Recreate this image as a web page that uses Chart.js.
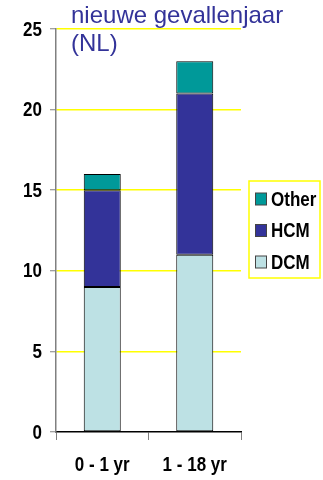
<!DOCTYPE html>
<html>
<head>
<meta charset="utf-8">
<script src="https://cdn.jsdelivr.net/npm/chart.js@4.4.1/dist/chart.umd.min.js"></script>
<style>
  html, body { margin: 0; padding: 0; background: #fff; }
  #wrap { position: relative; width: 323px; height: 480px; }
</style>
</head>
<body>
<div id="wrap"><canvas id="c" width="323" height="480"></canvas></div>
<script>
// New cases per year (NL) by age group and cardiomyopathy type
const categories = ['0 - 1 yr', '1 - 18 yr'];
const dcm = [9, 11];
const hcm = [6, 10];
const other = [1, 2];
const yTicks = [0, 5, 10, 15, 20, 25];
const titleLines = ['nieuwe gevallenjaar', '(NL)'];

const COLORS = { DCM: '#BDE1E4', HCM: '#333399', Other: '#009999' };
const FONT = '"Liberation Sans", Arial, sans-serif';
const BOLD = 'bold 20px ' + FONT;
const SQUEEZE = 0.85; // narrow bold lettering for axis and legend labels

// Draw text horizontally condensed around its anchor point
function narrowText(ctx, text, x, y, align) {
  ctx.save();
  ctx.translate(x, y);
  ctx.scale(SQUEEZE, 1);
  ctx.textAlign = align;
  ctx.fillText(text, 0, 0);
  ctx.restore();
}

const datasets = [
  { label: 'DCM', data: dcm, backgroundColor: COLORS.DCM },
  { label: 'HCM', data: hcm, backgroundColor: COLORS.HCM },
  { label: 'Other', data: other, backgroundColor: COLORS.Other }
].map(d => Object.assign(d, {
  borderColor: '#000', borderWidth: 1, borderSkipped: false,
  barPercentage: 0.4, categoryPercentage: 1
}));

// Axis labels, placed through the chart's own scales
const axisLabelPlugin = {
  id: 'axisLabels',
  afterDraw(chart) {
    const ctx = chart.ctx;
    const xs = chart.scales.x, ys = chart.scales.y;
    ctx.save();
    ctx.fillStyle = '#000';
    ctx.font = BOLD;
    ctx.textBaseline = 'middle';
    ys.ticks.forEach(t => {
      narrowText(ctx, String(t.value), 42, ys.getPixelForValue(t.value) + 1, 'right');
    });
    ctx.textBaseline = 'alphabetic';
    categories.forEach((c, i) => {
      narrowText(ctx, c, xs.getPixelForValue(i), 471, 'center');
    });
    ctx.restore();
  }
};

// Title text overlapping the top of the plot
const titlePlugin = {
  id: 'titleText',
  afterDraw(chart) {
    const ctx = chart.ctx;
    ctx.save();
    ctx.fillStyle = '#333399';
    ctx.font = '24px ' + FONT;
    ctx.textAlign = 'left';
    ctx.textBaseline = 'alphabetic';
    ctx.fillText(titleLines[0], 71, 23);
    ctx.fillText(titleLines[1], 71, 51);
    ctx.restore();
  }
};

// Boxed legend on the right, top-to-bottom in reverse stacking order
const legendPlugin = {
  id: 'boxLegend',
  afterDraw(chart) {
    const ctx = chart.ctx;
    ctx.save();
    ctx.strokeStyle = '#FFFF00';
    ctx.lineWidth = 1.5;
    ctx.fillStyle = '#fff';
    ctx.fillRect(249, 181, 71, 97);
    ctx.strokeRect(249, 181, 71, 97);
    const items = chart.data.datasets.slice().reverse();
    ctx.font = BOLD;
    ctx.textBaseline = 'middle';
    items.forEach((ds, i) => {
      const cy = 199 + i * 31.5;
      ctx.fillStyle = ds.backgroundColor;
      ctx.fillRect(255.5, cy - 6, 11, 12);
      ctx.strokeStyle = '#444';
      ctx.lineWidth = 1;
      ctx.strokeRect(255.5, cy - 6, 11, 12);
      ctx.fillStyle = '#000';
      narrowText(ctx, ds.label, 271, cy + 1, 'left');
    });
    ctx.restore();
  }
};

new Chart(document.getElementById('c'), {
  type: 'bar',
  data: { labels: categories, datasets },
  plugins: [axisLabelPlugin, titlePlugin, legendPlugin],
  options: {
    responsive: false,
    animation: false,
    devicePixelRatio: 1,
    layout: { padding: { top: 29, right: 82, left: 0, bottom: 0 } },
    plugins: { legend: { display: false }, tooltip: { enabled: false }, title: { display: false } },
    scales: {
      x: {
        stacked: true,
        offset: true,
        grid: { offset: true, drawOnChartArea: false, tickLength: 8, tickColor: '#808080', tickWidth: 1 },
        border: { color: '#000', width: 1.5 },
        ticks: { display: false },
        afterFit(s) { s.height = 48; }
      },
      y: {
        stacked: true,
        min: 0, max: 25,
        afterBuildTicks(s) { s.ticks = yTicks.map(v => ({ value: v })); },
        grid: {
          color: c => (c.tick && c.tick.value === 0) ? 'rgba(0,0,0,0)' : '#FFFF00',
          lineWidth: 1.5, tickLength: 6, tickColor: '#808080', tickWidth: 1
        },
        border: { color: '#808080', width: 1.5 },
        ticks: { display: false },
        afterFit(s) { s.width = 56; }
      }
    }
  }
});
</script>
</body>
</html>
